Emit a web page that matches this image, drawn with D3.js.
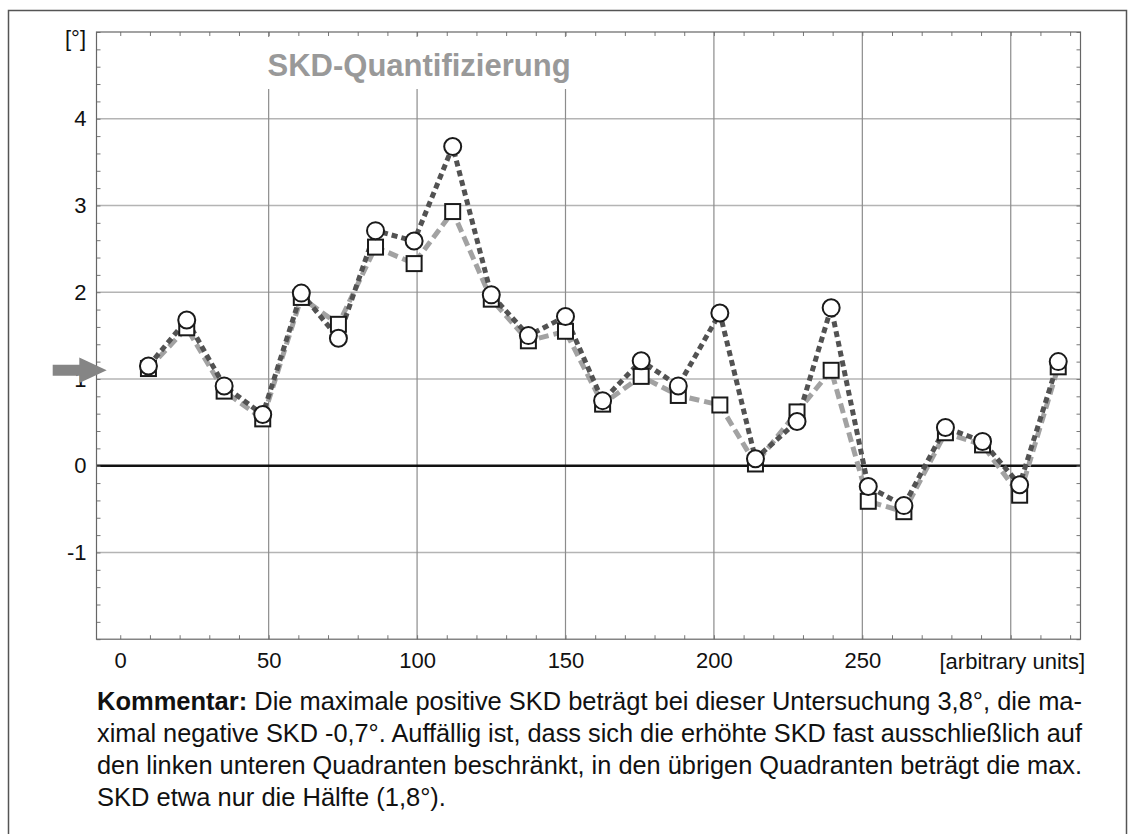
<!DOCTYPE html>
<html>
<head>
<meta charset="utf-8">
<script src="https://cdn.jsdelivr.net/npm/d3@7"></script>
<style>
  body { margin: 0; background: #fff; }
  svg { display: block; font-family: "Liberation Sans", Arial, sans-serif; }
  .tick text { font-family: "Liberation Sans", Arial, sans-serif; }
</style>
</head>
<body>
<div id="chart"></div>
<script>
// values
const xValues = [9.5, 22.4, 35, 48, 61, 73.5, 86, 99, 112, 125, 137.5, 150, 162.5,
  175.5, 188, 202, 214, 228, 239.5, 252, 264, 278, 290.5, 303, 316];
const circleValues = [1.15, 1.68, 0.92, 0.59, 1.99, 1.47, 2.71, 2.59, 3.68, 1.97, 1.50, 1.72,
  0.75, 1.21, 0.92, 1.76, 0.08, 0.51, 1.82, -0.24, -0.46, 0.44, 0.28, -0.22, 1.20];
const squareValues = [1.12, 1.59, 0.86, 0.54, 1.94, 1.63, 2.52, 2.33, 2.93, 1.92, 1.44, 1.55,
  0.71, 1.03, 0.81, 0.70, 0.02, 0.62, 1.10, -0.41, -0.53, 0.38, 0.24, -0.34, 1.14];
const xTickLabels = [0, 50, 100, 150, 200, 250];
const xGrid = [50, 100, 150, 200, 250, 300];
const yTickLabels = [-1, 0, 1, 2, 3, 4];
const yGrid = [-1, 1, 2, 3, 4];
const arrowValue = 1.1;
const title = "SKD-Quantifizierung";
const yUnit = "[°]";
const xUnit = "[arbitrary units]";
const commentLines = [
  ["Kommentar:", " Die maximale positive SKD beträgt bei dieser Untersuchung 3,8°, die ma-"],
  ["", "ximal negative SKD -0,7°. Auffällig ist, dass sich die erhöhte SKD fast ausschließlich auf"],
  ["", "den linken unteren Quadranten beschränkt, in den übrigen Quadranten beträgt die max."],
  ["", "SKD etwa nur die Hälfte (1,8°)."]
];

const W = 1135, H = 834;
const plot = {left: 96.5, right: 1080.5, top: 32, bottom: 639.2};

const svg = d3.select("#chart").append("svg")
  .attr("width", W)
  .attr("height", H);

// outer frame
svg.append("rect")
  .attr("x", 8.5).attr("y", 10.5)
  .attr("width", 1118).attr("height", 900)
  .attr("fill", "none")
  .attr("stroke", "#555")
  .attr("stroke-width", 1.5);

const x = d3.scaleLinear().domain([-8, 323.5]).range([plot.left, plot.right]);
const y = d3.scaleLinear().domain([-2, 5]).range([plot.bottom, plot.top]);

// grid
svg.append("g")
  .selectAll("line")
  .data(yGrid)
  .enter().append("line")
  .attr("x1", plot.left).attr("x2", plot.right)
  .attr("y1", d => y(d)).attr("y2", d => y(d))
  .attr("stroke", "#b4b4b4")
  .attr("stroke-width", 1.5);

svg.append("g")
  .selectAll("line")
  .data(xGrid)
  .enter().append("line")
  .attr("x1", d => x(d)).attr("x2", d => x(d))
  .attr("y1", plot.top).attr("y2", plot.bottom)
  .attr("stroke", "#8c8c8c")
  .attr("stroke-width", 1.2);

// white box behind the title hides the grid there
svg.append("rect")
  .attr("x", 240).attr("y", plot.top + 5)
  .attr("width", 360).attr("height", 52)
  .attr("fill", "#fff");

// zero line
svg.append("line")
  .attr("x1", plot.left).attr("x2", plot.right)
  .attr("y1", y(0)).attr("y2", y(0))
  .attr("stroke", "#111")
  .attr("stroke-width", 2.5);

// minor ticks, pointing inward on all four sides
const minorX = d3.range(0, 321, 10);
const minorY = d3.range(-2, 5.001, 0.2);
const tickStyle = g => {
  g.select(".domain").remove();
  g.selectAll(".tick line").attr("stroke", "#777").attr("stroke-width", 1);
  g.selectAll(".tick text").remove();
};
svg.append("g").attr("transform", `translate(0,${plot.bottom})`)
  .call(d3.axisBottom(x).tickValues(minorX).tickSize(-4)).call(tickStyle);
svg.append("g").attr("transform", `translate(0,${plot.top})`)
  .call(d3.axisTop(x).tickValues(minorX).tickSize(-4)).call(tickStyle);
svg.append("g").attr("transform", `translate(${plot.left},0)`)
  .call(d3.axisLeft(y).tickValues(minorY).tickSize(-4)).call(tickStyle);
svg.append("g").attr("transform", `translate(${plot.right},0)`)
  .call(d3.axisRight(y).tickValues(minorY).tickSize(-4)).call(tickStyle);

// frame of the plot
svg.append("rect")
  .attr("x", plot.left).attr("y", plot.top)
  .attr("width", plot.right - plot.left)
  .attr("height", plot.bottom - plot.top)
  .attr("fill", "none")
  .attr("stroke", "#666")
  .attr("stroke-width", 1.2);

// tick labels (plain hyphen for negatives, as in the original)
const fmt = d => String(d);
const labelStyle = g => {
  g.select(".domain").remove();
  g.selectAll(".tick text").attr("font-size", 22).attr("fill", "#111");
};
svg.append("g").attr("transform", `translate(0,${plot.bottom})`)
  .call(d3.axisBottom(x).tickValues(xTickLabels).tickSize(0).tickPadding(13).tickFormat(fmt))
  .call(labelStyle);
svg.append("g").attr("transform", `translate(${plot.left},0)`)
  .call(d3.axisLeft(y).tickValues(yTickLabels).tickSize(0).tickPadding(10).tickFormat(fmt))
  .call(labelStyle);

svg.append("text")
  .attr("x", 86).attr("y", 46)
  .attr("text-anchor", "end")
  .attr("font-size", 22)
  .attr("fill", "#111")
  .text(yUnit);

svg.append("text")
  .attr("x", 1085).attr("y", 669)
  .attr("text-anchor", "end")
  .attr("font-size", 22)
  .attr("fill", "#111")
  .text(xUnit);

svg.append("text")
  .attr("x", 267.5).attr("y", 76)
  .attr("font-size", 31)
  .attr("font-weight", "bold")
  .attr("fill", "#999")
  .text(title);

// arrow at the left edge
const ay = y(arrowValue);
svg.append("path")
  .attr("d", `M52.7,${ay - 5.5} L79.3,${ay - 5.5} L79.3,${ay - 12.7} L106.7,${ay}
              L79.3,${ay + 12.7} L79.3,${ay + 5.5} L52.7,${ay + 5.5} Z`)
  .attr("fill", "#858585");

// series lines
const pointsC = xValues.map((d, i) => [d, circleValues[i]]);
const pointsS = xValues.map((d, i) => [d, squareValues[i]]);
const line = d3.line().x(d => x(d[0])).y(d => y(d[1]));

svg.append("path")
  .datum(pointsS)
  .attr("d", line)
  .attr("fill", "none")
  .attr("stroke", "#a2a2a2")
  .attr("stroke-width", 5)
  .attr("stroke-dasharray", "10,5");

svg.append("path")
  .datum(pointsC)
  .attr("d", line)
  .attr("fill", "none")
  .attr("stroke", "#525252")
  .attr("stroke-width", 5)
  .attr("stroke-dasharray", "6,4");

// markers
const sq = 15;
svg.append("g")
  .selectAll("rect")
  .data(pointsS)
  .enter().append("rect")
  .attr("x", d => x(d[0]) - sq / 2)
  .attr("y", d => y(d[1]) - sq / 2)
  .attr("width", sq).attr("height", sq)
  .attr("fill", "#fff")
  .attr("stroke", "#1a1a1a")
  .attr("stroke-width", 2);

svg.append("g")
  .selectAll("circle")
  .data(pointsC)
  .enter().append("circle")
  .attr("cx", d => x(d[0]))
  .attr("cy", d => y(d[1]))
  .attr("r", 8.5)
  .attr("fill", "#fff")
  .attr("stroke", "#1a1a1a")
  .attr("stroke-width", 2);

// comment below the chart, justified like the original
const textLeft = 97, textRight = 1082, lineH = 32, firstBase = 710, fs = 25.5;
commentLines.forEach(([bold, rest], i) => {
  const by = firstBase + i * lineH;
  let startX = textLeft;
  if (bold) {
    const b = svg.append("text")
      .attr("x", textLeft).attr("y", by)
      .attr("font-size", fs)
      .attr("font-weight", "bold")
      .attr("fill", "#111")
      .text(bold);
    startX = textLeft + b.node().getComputedTextLength();
  }
  const t = svg.append("text")
    .attr("x", startX).attr("y", by)
    .attr("font-size", fs)
    .attr("fill", "#111")
    .attr("xml:space", "preserve")
    .style("white-space", "pre")
    .text(rest);
  if (i < commentLines.length - 1) {
    t.attr("textLength", textRight - startX).attr("lengthAdjust", "spacingAndGlyphs");
  }
});
</script>
</body>
</html>
